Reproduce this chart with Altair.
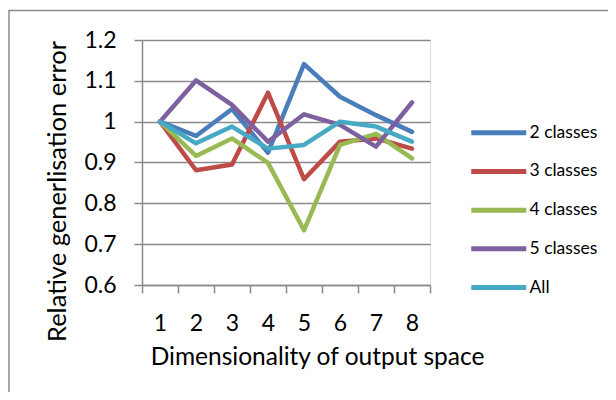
import altair as alt
import pandas as pd

dims = [1, 2, 3, 4, 5, 6, 7, 8]
series_names = ["2 classes", "3 classes", "4 classes", "5 classes", "All"]
two_classes = [1.0, 0.965, 1.031, 0.924, 1.141, 1.061, 1.016, 0.975]
three_classes = [1.0, 0.881, 0.895, 1.071, 0.859, 0.951, 0.959, 0.934]
four_classes = [1.0, 0.916, 0.959, 0.899, 0.734, 0.943, 0.970, 0.910]
five_classes = [1.0, 1.101, 1.041, 0.951, 1.018, 0.992, 0.939, 1.047]
all_classes = [1.0, 0.947, 0.988, 0.934, 0.943, 1.0, 0.988, 0.951]
colors = ["#4A7EBB", "#BE4B48", "#98B954", "#7D60A0", "#46AAC5"]
y_ticks = [0.6, 0.7, 0.8, 0.9, 1.0, 1.1, 1.2]

rows = []
for name, vals in zip(series_names, [two_classes, three_classes, four_classes, five_classes, all_classes]):
    for d, v in zip(dims, vals):
        rows.append({"dim": d, "value": v, "series": name})
df = pd.DataFrame(rows)

FONT = "Lato"
GRID = "#8a8a8a"

lines = alt.Chart(df).mark_line(strokeWidth=4.5, strokeCap="round", strokeJoin="round").encode(
    x=alt.X("dim:O",
            scale=alt.Scale(type="band", paddingInner=0, paddingOuter=0),
            axis=alt.Axis(title="Dimensionality of output space", labelAngle=0,
                          tickBand="extent", tickSize=8, tickColor=GRID, tickWidth=1.5,
                          domainColor=GRID, domainWidth=1.5, grid=False,
                          labelPadding=19, labelFontSize=23, labelFont=FONT, labelColor="#000",
                          titleFont=FONT, titleFontSize=24.5, titleFontWeight="normal", titleColor="#000",
                          titleX=175, titleY=72, titleBaseline="middle")),
    y=alt.Y("value:Q",
            scale=alt.Scale(domain=[0.6, 1.2], nice=False, zero=False),
            axis=alt.Axis(title="Relative generlisation error", values=y_ticks,
                          labelExpr="datum.value == 1 ? '1' : format(datum.value, '.1f')",
                          tickSize=8, tickColor=GRID, tickWidth=1.5,
                          domainColor=GRID, domainWidth=1.5,
                          grid=True, gridColor=GRID, gridWidth=1.5,
                          labelPadding=18, labelFontSize=23, labelFont=FONT, labelColor="#000",
                          titleFont=FONT, titleFontSize=25.5, titleFontWeight="normal", titleColor="#000",
                          titleX=-85, titleY=151, titleBaseline="middle")),
    color=alt.Color("series:N", sort=series_names,
                    scale=alt.Scale(domain=series_names, range=colors),
                    legend=alt.Legend(title=None, orient="none", legendX=348, legendY=84,
                                      symbolType="M-5,0H5", symbolSize=121, symbolStrokeWidth=5,
                                      labelOffset=22, labelFont=FONT, labelFontSize=17.5,
                                      labelColor="#000", rowPadding=17.7)),
)

border = alt.Chart(pd.DataFrame({"k": [0]})).mark_rect(
    fill=None, stroke="#8c8c8c", strokeWidth=1.5, clip=False
).encode(
    x=alt.value(-133), x2=alt.value(560), y=alt.value(-29.5), y2=alt.value(500)
)

chart = alt.layer(border, lines).properties(
    width=288, height=245,
    padding={"left": 134, "top": 32, "right": 178, "bottom": 107},
    autosize=alt.AutoSizeParams(type="none"),
).configure_view(stroke=None).configure(background="white")

chart.save("out.html", embed_options={"renderer": "svg", "actions": False})
